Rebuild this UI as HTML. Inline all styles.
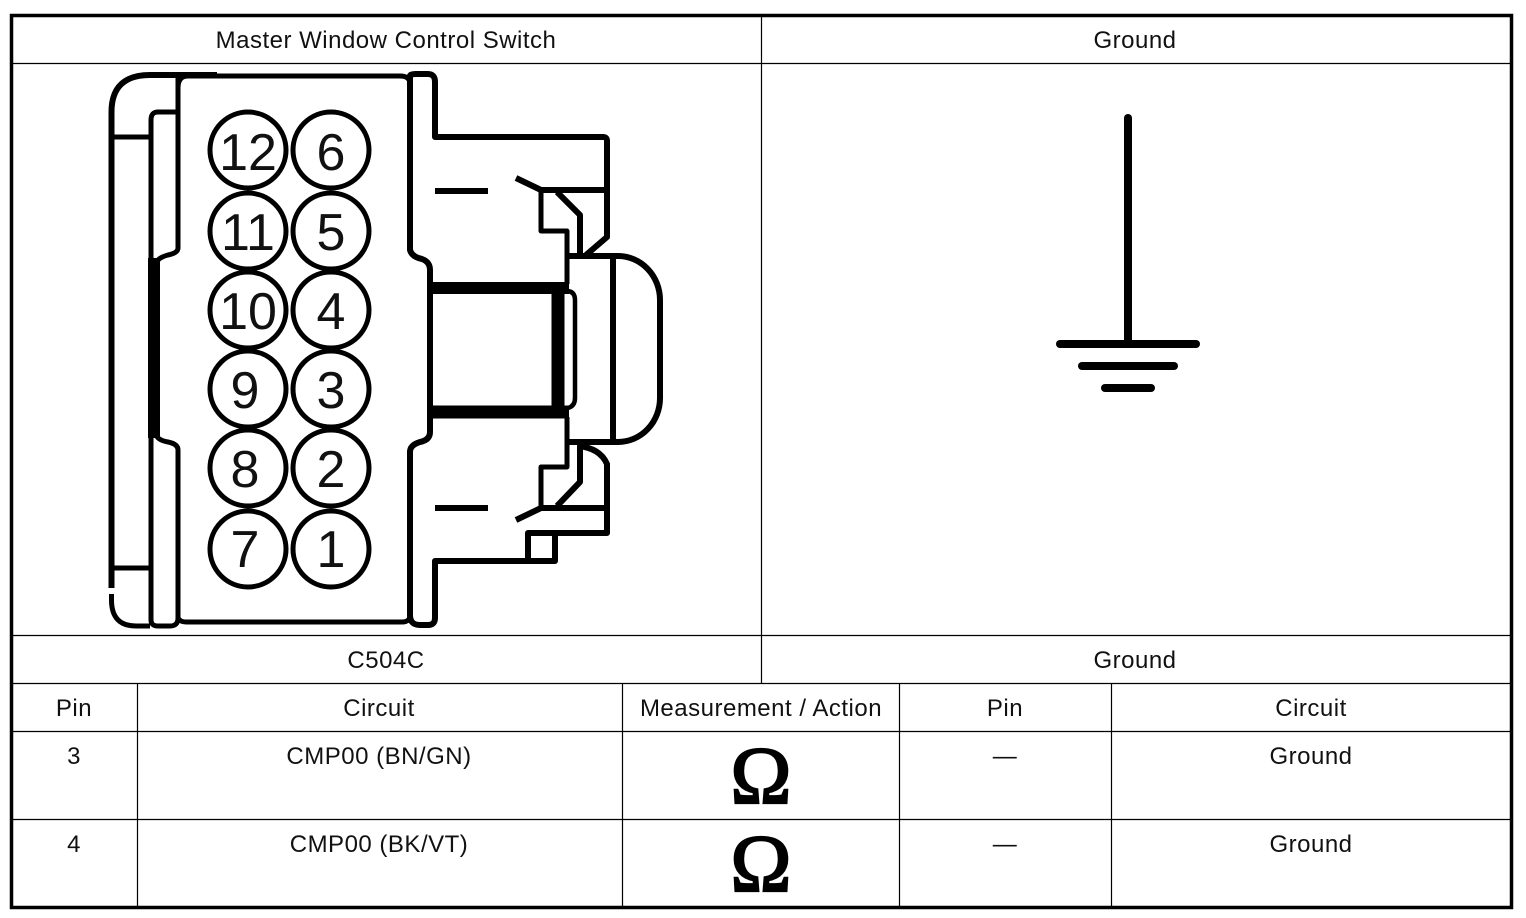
<!DOCTYPE html>
<html><head><meta charset="utf-8"><style>
html,body{margin:0;padding:0;background:#fff;width:1526px;height:918px;overflow:hidden}
svg{display:block}
text{font-family:"Liberation Sans",sans-serif;fill:#111}
.t{font-size:24px;text-anchor:middle;letter-spacing:.5px}
.n{font-size:52px;text-anchor:middle;letter-spacing:0}
.o{font-family:"Liberation Serif",serif;font-size:82px;text-anchor:middle;fill:#000;stroke:#000;stroke-width:2.2px}
.g path,.g line,.g circle{fill:none;stroke:#000;stroke-linejoin:round}
</style></head><body>
<svg width="1526" height="918" viewBox="0 0 1526 918" xmlns="http://www.w3.org/2000/svg">
<rect x="11.5" y="15.500" width="1500" height="892" fill="none" stroke="#000" stroke-width="3.5"/>
<g stroke="#000" stroke-width="1.2">
<line x1="12" y1="63.5" x2="1511" y2="63.5"/>
<line x1="12" y1="635.5" x2="1511" y2="635.5"/>
<line x1="12" y1="683.5" x2="1511" y2="683.5"/>
<line x1="12" y1="731.5" x2="1511" y2="731.5"/>
<line x1="12" y1="819.5" x2="1511" y2="819.5"/>
<line x1="761.5" y1="16" x2="761.5" y2="683"/>
<line x1="137.5" y1="683" x2="137.5" y2="907"/>
<line x1="622.5" y1="683" x2="622.5" y2="907"/>
<line x1="899.5" y1="683" x2="899.5" y2="907"/>
<line x1="1111.5" y1="683" x2="1111.5" y2="907"/>
</g>
<text class="t" x="386" y="48">Master Window Control Switch</text>
<text class="t" x="1135" y="48">Ground</text>
<text class="t" x="386" y="668">C504C</text>
<text class="t" x="1135" y="668">Ground</text>
<text class="t" x="74" y="716">Pin</text>
<text class="t" x="379" y="716">Circuit</text>
<text class="t" x="761" y="716">Measurement / Action</text>
<text class="t" x="1005" y="716">Pin</text>
<text class="t" x="1311" y="716">Circuit</text>
<text class="t" x="74" y="764">3</text>
<text class="t" x="379" y="764">CMP00 (BN/GN)</text>
<text class="t" x="1005" y="764">—</text>
<text class="t" x="1311" y="764">Ground</text>
<text class="t" x="74" y="852">4</text>
<text class="t" x="379" y="852">CMP00 (BK/VT)</text>
<text class="t" x="1005" y="852">—</text>
<text class="t" x="1311" y="852">Ground</text>
<text class="o" x="761" y="803">Ω</text>
<text class="o" x="761" y="891">Ω</text>

<g class="g">
<!-- ground -->
<line x1="1128" y1="118" x2="1128" y2="343" stroke-width="8" stroke-linecap="round"/>
<line x1="1060" y1="344" x2="1196" y2="344" stroke-width="8" stroke-linecap="round"/>
<line x1="1082" y1="366" x2="1174" y2="366" stroke-width="8" stroke-linecap="round"/>
<line x1="1105" y1="388" x2="1151" y2="388" stroke-width="8" stroke-linecap="round"/>

<!-- connector left -->
<path d="M111.500 588V112Q111.500 75 150 75H217" stroke-width="6"/>
<path d="M111.500 594V600Q111.500 626 136 626H150" stroke-width="5"/>
<line x1="114" y1="137" x2="150" y2="137" stroke-width="5"/>
<line x1="114" y1="568" x2="150" y2="568" stroke-width="5"/>
<path d="M151 262V120Q151 112 158 112H178" stroke-width="5"/>
<path d="M178 74V248Q178 253 168 255Q157 258 156 264" stroke-width="5"/>
<line x1="154" y1="258" x2="154" y2="438" stroke-width="12"/>
<path d="M151 436V620Q151 626 158 626H170Q178 626 178 618V450Q178 444 168 442Q157 440 156 434" stroke-width="5"/>
<!-- main box -->
<path d="M178 88Q178 76 188 76H400Q410 76 410 84" stroke-width="5"/>
<path d="M178 618Q180 622 186 622H402Q410 622 410 615" stroke-width="5"/>
<path d="M410 84V76Q410 74 416 74H428Q435 74 435 82V137H603Q607 137 607 141V237L586 255" stroke-width="6"/>
<path d="M410 84V250Q412 257 422 259Q430 262 430 270V432Q430 440 420 442Q410 445 410 452V615Q410 625 420 625H428Q435 625 435 618V561H555V535" stroke-width="6"/>
<!-- top latch -->
<line x1="435" y1="191" x2="488" y2="191" stroke-width="6"/>
<path d="M516 178L541 190H607" stroke-width="6"/>
<path d="M541 190V231H567V284" stroke-width="5"/>
<path d="M557 192L580 215V256" stroke-width="6"/>
<!-- bottom latch -->
<line x1="435" y1="508" x2="488" y2="508" stroke-width="6"/>
<path d="M516 520L541 508H607" stroke-width="6"/>
<path d="M541 508V467H567V417" stroke-width="5"/>
<path d="M557 506L580 482V444" stroke-width="6"/>
<path d="M578 446Q600 448 607 464V533H528V561" stroke-width="6"/>
<path d="M528 533H555" stroke-width="5"/>
<!-- central -->
<line x1="430" y1="288" x2="569" y2="288" stroke-width="12"/>
<line x1="430" y1="412" x2="569" y2="412" stroke-width="13"/>
<line x1="558" y1="283" x2="558" y2="418" stroke-width="13"/>
<path d="M568 291Q575 292 575 300V398Q575 406 568 408" stroke-width="4.500"/>
<path d="M567 256H618A42 44 0 0 1 660 300V398A42 44 0 0 1 618 442H567" stroke-width="6"/>
<line x1="613" y1="256" x2="613" y2="442" stroke-width="6"/>

<!-- pin circles -->
<circle cx="248" cy="150" r="38" stroke-width="5"/><circle cx="331" cy="150" r="38" stroke-width="5"/>
<circle cx="248" cy="231" r="38" stroke-width="5"/><circle cx="331" cy="231" r="38" stroke-width="5"/>
<circle cx="248" cy="310" r="38" stroke-width="5"/><circle cx="331" cy="310" r="38" stroke-width="5"/>
<circle cx="248" cy="389" r="38" stroke-width="5"/><circle cx="331" cy="389" r="38" stroke-width="5"/>
<circle cx="248" cy="468" r="38" stroke-width="5"/><circle cx="331" cy="468" r="38" stroke-width="5"/>
<circle cx="248" cy="549" r="38" stroke-width="5"/><circle cx="331" cy="549" r="38" stroke-width="5"/>
</g>
<text class="n" x="248" y="170">12</text><text class="n" x="331" y="170">6</text>
<text class="n" x="248" y="250">11</text><text class="n" x="331" y="250">5</text>
<text class="n" x="248" y="329">10</text><text class="n" x="331" y="329">4</text>
<text class="n" x="245" y="408">9</text><text class="n" x="331" y="408">3</text>
<text class="n" x="245" y="487">8</text><text class="n" x="331" y="487">2</text>
<text class="n" x="245" y="567">7</text><text class="n" x="331" y="567">1</text>
</svg>
</body></html>
